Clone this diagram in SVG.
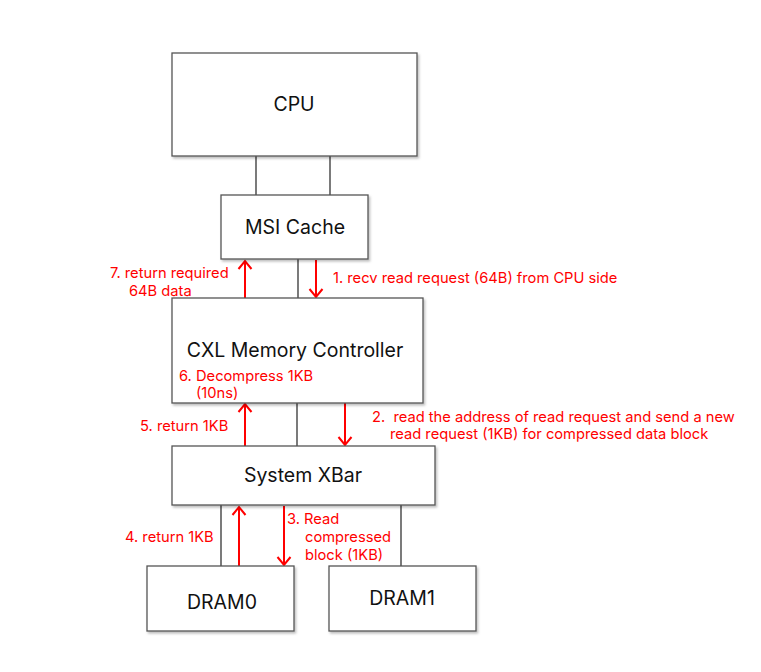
<svg xmlns="http://www.w3.org/2000/svg" width="761" height="672" viewBox="0 0 761 672">
  <defs>
    <filter id="sh" x="-10%" y="-10%" width="130%" height="130%">
      <feDropShadow dx="1.5" dy="2" stdDeviation="1.2" flood-color="#000" flood-opacity="0.25"/>
    </filter>
    <marker id="ah" markerUnits="userSpaceOnUse" markerWidth="16" markerHeight="16" viewBox="-10 -8 12 16" refX="0" refY="0" orient="auto">
      <path d="M -8 -6.5 L 0 0 L -8 6.5" fill="none" stroke="#ff0000" stroke-width="2"/>
    </marker>
    <style>
      .box { fill: #fff; stroke: #555; stroke-width: 1.3; filter: url(#sh); }
      .lbl { font-family: Inter, "Liberation Sans", sans-serif; font-size: 19.5px; fill: #111; text-anchor: middle; }
      .red { font-family: Inter, "Liberation Sans", sans-serif; font-size: 14.7px; fill: #ff0000; }
      .wire { stroke: #222; stroke-width: 1.2; fill: none; }
      .arr { stroke: #ff0000; stroke-width: 2; fill: none; marker-end: url(#ah); }
    </style>
  </defs>
  <rect width="761" height="672" fill="#fff"/>

  <g id="connectors">
    <line class="wire" x1="256" y1="156" x2="256" y2="195"/>
    <line class="wire" x1="330" y1="156" x2="330" y2="195"/>
    <line class="wire" x1="298" y1="259" x2="298" y2="298"/>
    <line class="wire" x1="297" y1="403" x2="297" y2="446"/>
    <line class="wire" x1="221" y1="505" x2="221" y2="566"/>
    <line class="wire" x1="401" y1="505" x2="401" y2="566"/>
    <line class="arr" x1="245" y1="298" x2="245" y2="261"/>
    <line class="arr" x1="316" y1="260" x2="316" y2="297"/>
    <line class="arr" x1="245" y1="446" x2="245" y2="404"/>
    <line class="arr" x1="345" y1="403" x2="345" y2="445"/>
    <line class="arr" x1="239" y1="566" x2="239" y2="507"/>
    <line class="arr" x1="284" y1="506" x2="284" y2="565"/>
  </g>

  <g id="cpu">
    <rect class="box" x="172" y="53" width="245" height="103"/>
    <text class="lbl" x="294" y="111">CPU</text>
  </g>
  <g id="msi-cache">
    <rect class="box" x="221" y="195" width="147" height="64"/>
    <text class="lbl" x="295" y="234">MSI Cache</text>
  </g>
  <g id="cxl-memory-controller">
    <rect class="box" x="172" y="298" width="251" height="105"/>
    <text class="lbl" x="295" y="357">CXL Memory Controller</text>
  </g>
  <g id="system-xbar">
    <rect class="box" x="172" y="446" width="263" height="59"/>
    <text class="lbl" x="303" y="482">System XBar</text>
  </g>
  <g id="dram0">
    <rect class="box" x="147" y="566" width="147" height="65"/>
    <text class="lbl" x="222" y="609">DRAM0</text>
  </g>
  <g id="dram1">
    <rect class="box" x="329" y="566" width="147" height="65"/>
    <text class="lbl" x="402" y="605">DRAM1</text>
  </g>

  <g id="labels">
    <text class="red" x="110" y="278">7. return required</text>
    <text class="red" x="129" y="296">64B data</text>
    <text class="red" x="333" y="283">1. recv read request (64B) from CPU side</text>
    <text class="red" x="179" y="381">6. Decompress 1KB</text>
    <text class="red" x="196" y="398">(10ns)</text>
    <text class="red" x="140" y="431">5. return 1KB</text>
    <text class="red" x="372" y="422" xml:space="preserve">2.  read the address of read request and send a new</text>
    <text class="red" x="390" y="439">read request (1KB) for compressed data block</text>
    <text class="red" x="125" y="542">4. return 1KB</text>
    <text class="red" x="287" y="524">3. Read</text>
    <text class="red" x="305" y="542">compressed</text>
    <text class="red" x="305" y="560">block (1KB)</text>
  </g>
</svg>
